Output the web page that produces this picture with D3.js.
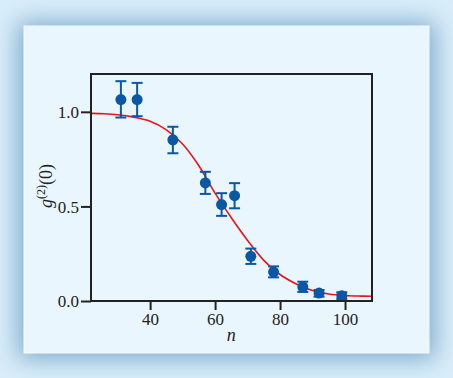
<!DOCTYPE html>
<html lang="en">
<head>
  <meta charset="UTF-8" />
  <title>g2(0) versus n</title>
  <script src="https://d3js.org/d3.v7.min.js"></script>
  <style>
    body {
      margin: 0;
      background-color: #d9edf9;
      overflow: hidden;
    }
  </style>
</head>
<body>
  <script>
    // Measured points: n, g2(0), error bar top and bottom
    const nValues   = [31, 36, 47, 57, 62, 66, 71, 78, 87, 92, 99];
    const g2Values  = [1.065, 1.065, 0.852, 0.624, 0.51, 0.557, 0.236, 0.153, 0.074, 0.042, 0.028];
    const errTop    = [1.162, 1.153, 0.921, 0.683, 0.57, 0.623, 0.277, 0.183, 0.102, 0.058, 0.046];
    const errBottom = [0.97, 0.977, 0.781, 0.566, 0.45, 0.49, 0.196, 0.125, 0.048, 0.023, 0.011];

    // Fitted curve
    const fitN  = [22, 26, 30, 35, 40, 45, 50, 55, 60, 65, 70, 75, 80, 85, 90, 95, 100, 105, 108];
    const fitG2 = [0.992, 0.99, 0.985, 0.972, 0.95, 0.905, 0.83, 0.715, 0.57, 0.44, 0.32, 0.215, 0.14, 0.09, 0.055, 0.037, 0.029, 0.026, 0.025];

    const xTicks = [40, 60, 80, 100];
    const yTicks = [0, 0.5, 1.0];

    const width = 453, height = 378;
    const margin = { left: 91, right: 81, top: 74, bottom: 77 };
    const serif = "'Liberation Serif', 'DejaVu Serif', serif";

    const svg = d3.select("body").append("svg")
      .attr("width", width)
      .attr("height", height);

    // Soft shadow around the panel
    const defs = svg.append("defs");
    const blur = defs.append("filter").attr("id", "shadow")
      .attr("x", "-30%").attr("y", "-30%").attr("width", "160%").attr("height", "160%");
    blur.append("feGaussianBlur").attr("stdDeviation", 12);

    svg.append("rect")
      .attr("x", 18).attr("y", 22).attr("width", 417).attr("height", 337)
      .attr("fill", "#7eaacd")
      .attr("filter", "url(#shadow)");
    svg.append("rect")
      .attr("x", 24).attr("y", 26).attr("width", 405).attr("height", 327)
      .attr("fill", "#eaf6fd")
      .attr("stroke", "#f4faff")
      .attr("stroke-width", 1);

    const x = d3.scaleLinear().domain([21.8, 108.3]).range([margin.left, width - margin.right]);
    const y = d3.scaleLinear().domain([0, 1.2]).range([height - margin.bottom, margin.top]);

    // Axes
    svg.append("g")
      .attr("transform", `translate(0,${height - margin.bottom})`)
      .call(d3.axisBottom(x).tickValues(xTicks).tickSize(9).tickPadding(3))
      .call(g => g.select(".domain").remove())
      .call(g => g.selectAll(".tick line").attr("stroke", "#222").attr("stroke-width", 2))
      .call(g => g.selectAll(".tick text")
        .style("font-family", serif).style("font-size", "17px").attr("fill", "#222"));

    svg.append("g")
      .attr("transform", `translate(${margin.left},0)`)
      .call(d3.axisLeft(y).tickValues(yTicks).tickFormat(d3.format(".1f")).tickSize(10).tickPadding(2))
      .call(g => g.select(".domain").remove())
      .call(g => g.selectAll(".tick line").attr("stroke", "#222").attr("stroke-width", 2))
      .call(g => g.selectAll(".tick text").attr("dy", "0.34em")
        .style("font-family", serif).style("font-size", "17px").attr("fill", "#222"));

    // Fit curve
    svg.append("path")
      .datum(fitN.map((n, i) => [n, fitG2[i]]))
      .attr("fill", "none")
      .attr("stroke", "#e8141b")
      .attr("stroke-width", 1.6)
      .attr("d", d3.line().x(d => x(d[0])).y(d => y(d[1])).curve(d3.curveMonotoneX));

    // Error bars and points
    const blue = "#0a58a3";
    const pts = svg.append("g");
    nValues.forEach((n, i) => {
      const cx = x(n);
      pts.append("line")
        .attr("x1", cx).attr("x2", cx)
        .attr("y1", y(errTop[i])).attr("y2", y(errBottom[i]))
        .attr("stroke", blue).attr("stroke-width", 2);
      [errTop[i], errBottom[i]].forEach(v => {
        pts.append("line")
          .attr("x1", cx - 5.5).attr("x2", cx + 5.5)
          .attr("y1", y(v)).attr("y2", y(v))
          .attr("stroke", blue).attr("stroke-width", 2);
      });
      pts.append("circle")
        .attr("cx", cx).attr("cy", y(g2Values[i]))
        .attr("r", 5.5)
        .attr("fill", blue);
    });

    // Frame
    svg.append("rect")
      .attr("x", margin.left).attr("y", margin.top)
      .attr("width", width - margin.left - margin.right)
      .attr("height", height - margin.top - margin.bottom)
      .attr("fill", "none")
      .attr("stroke", "#222")
      .attr("stroke-width", 2);

    // Axis labels
    svg.append("text")
      .attr("x", x(65))
      .attr("y", 341)
      .attr("text-anchor", "middle")
      .style("font-family", serif).style("font-size", "18px").style("font-style", "italic")
      .attr("fill", "#222")
      .text("n");

    const yl = svg.append("text")
      .attr("transform", "translate(52,186) rotate(-90)")
      .attr("text-anchor", "middle")
      .style("font-family", serif).style("font-size", "18px")
      .attr("fill", "#222");
    yl.append("tspan").style("font-style", "italic").text("g");
    yl.append("tspan").attr("dy", -7).style("font-size", "12px").text("(2)");
    yl.append("tspan").attr("dy", 7).text("(0)");
  </script>
</body>
</html>
